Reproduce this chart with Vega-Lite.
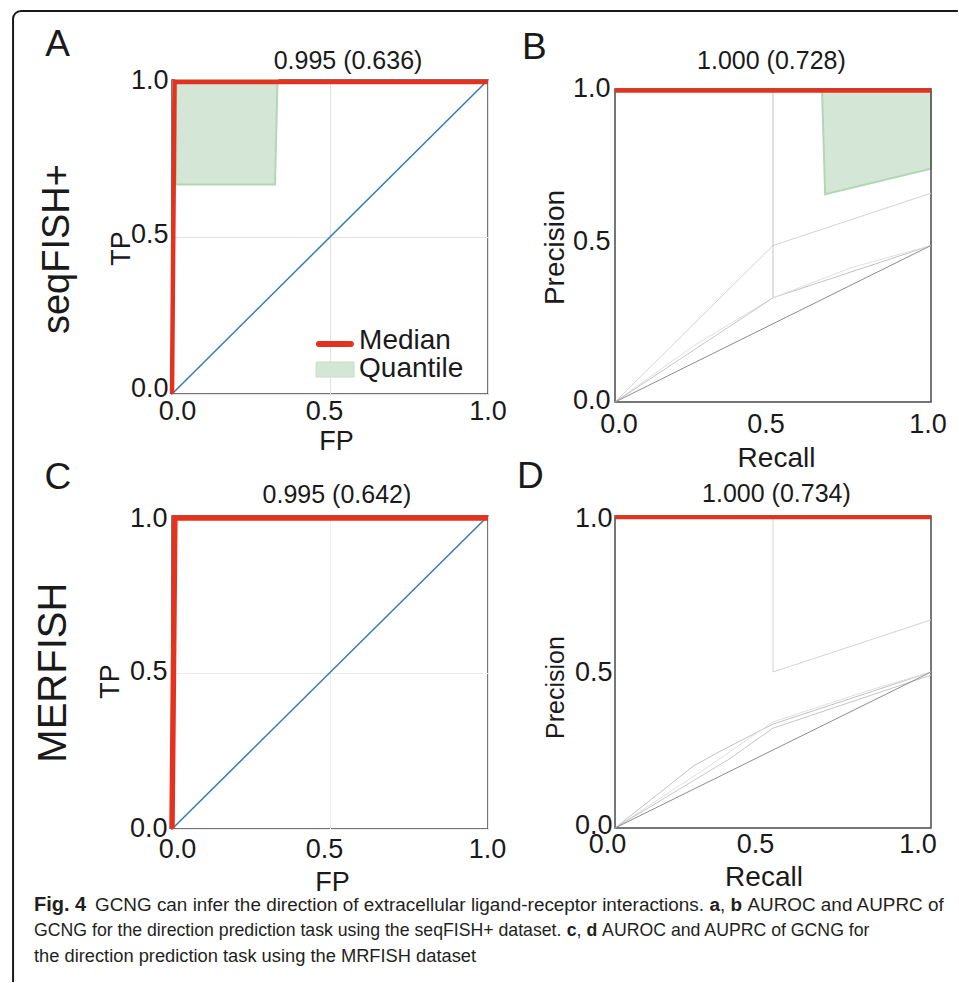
{
  "$schema": "https://vega.github.io/schema/vega-lite/v6.json",
  "background": "white",
  "padding": {"left": 11, "top": 9, "right": 0, "bottom": 0},
  "config": {
    "font": "Liberation Sans",
    "view": {"stroke": "#4a4a4a", "strokeWidth": 1.5},
    "axis": {
      "domain": false, "ticks": false, "tickSize": 0,
      "labelFontSize": 27, "labelColor": "#1a1a1a", "labelFont": "Liberation Sans",
      "titleFont": "Liberation Sans", "titleFontSize": 27, "titleFontWeight": "normal", "titleColor": "#1a1a1a",
      "labelFlush": false, "labelOverlap": false, "grid": false, "gridColor": "#e2e2e2", "gridWidth": 1,
      "titleAlign": "center", "titleBaseline": "alphabetic"
    },
    "axisY": {"titleAngle": 270, "labelBaseline": "middle"},
    "axisX": {"labelBaseline": "top", "labelAngle": 0},
    "text": {"color": "#1a1a1a"}
  },
  "datasets": {
    "diagonal": [{"x": 0, "y": 0}, {"x": 1, "y": 1}],
    "rocA_median": [{"x": 0, "y": 0}, {"x": 0.008, "y": 0.994}, {"x": 1, "y": 0.994}],
    "rocA_quantile": [{"x": 0.013, "y": 0.667, "y2": 1}, {"x": 0.326, "y": 0.667, "y2": 1}, {"x": 0.334, "y": 1, "y2": 1}],
    "rocC_median": [{"x": 0, "y": 0}, {"x": 0.009, "y": 0.994}, {"x": 1, "y": 0.994}],
    "prB_median": [{"x": 0, "y": 0.995}, {"x": 1, "y": 0.995}],
    "prB_quantile": [{"x": 0.655, "y": 1, "y2": 1}, {"x": 0.665, "y": 0.664, "y2": 1}, {"x": 1, "y": 0.745, "y2": 1}],
    "prB_curves": [
      {"run": "r1", "i": 0, "x": 0, "y": 0}, {"run": "r1", "i": 1, "x": 0.5, "y": 0.5}, {"run": "r1", "i": 2, "x": 1, "y": 0.667},
      {"run": "r2", "i": 0, "x": 0.5, "y": 1}, {"run": "r2", "i": 1, "x": 0.5, "y": 0.333}, {"run": "r2", "i": 2, "x": 1, "y": 0.5},
      {"run": "r3", "i": 0, "x": 0, "y": 0}, {"run": "r3", "i": 1, "x": 0.25, "y": 0.18}, {"run": "r3", "i": 2, "x": 0.5, "y": 0.333}, {"run": "r3", "i": 3, "x": 0.75, "y": 0.43}, {"run": "r3", "i": 4, "x": 1, "y": 0.5},
      {"run": "r4", "i": 0, "x": 0, "y": 0}, {"run": "r4", "i": 1, "x": 0.5, "y": 0.333},
      {"run": "chance", "i": 0, "x": 0, "y": 0}, {"run": "chance", "i": 1, "x": 1, "y": 0.5}
    ],
    "prD_median": [{"x": 0, "y": 0.996}, {"x": 1, "y": 0.996}],
    "prD_curves": [
      {"run": "r1", "i": 0, "x": 0.5, "y": 1}, {"run": "r1", "i": 1, "x": 0.5, "y": 0.5}, {"run": "r1", "i": 2, "x": 1, "y": 0.667},
      {"run": "r2", "i": 0, "x": 0, "y": 0}, {"run": "r2", "i": 1, "x": 0.25, "y": 0.2}, {"run": "r2", "i": 2, "x": 0.34, "y": 0.25}, {"run": "r2", "i": 3, "x": 0.5, "y": 0.333}, {"run": "r2", "i": 4, "x": 1, "y": 0.5},
      {"run": "r3", "i": 0, "x": 0, "y": 0}, {"run": "r3", "i": 1, "x": 0.3, "y": 0.2}, {"run": "r3", "i": 2, "x": 0.5, "y": 0.34}, {"run": "r3", "i": 3, "x": 0.8, "y": 0.44}, {"run": "r3", "i": 4, "x": 1, "y": 0.5},
      {"run": "r4", "i": 0, "x": 0, "y": 0}, {"run": "r4", "i": 1, "x": 0.36, "y": 0.22}, {"run": "r4", "i": 2, "x": 0.5, "y": 0.32}, {"run": "r4", "i": 3, "x": 1, "y": 0.49},
      {"run": "chance", "i": 0, "x": 0, "y": 0}, {"run": "chance", "i": 1, "x": 1, "y": 0.5}
    ],
    "labelsA": [{"title": "0.995 (0.636)", "letter": "A", "row": "seqFISH+"}],
    "labelsB": [{"title": "1.000 (0.728)", "letter": "B"}],
    "labelsC": [{"title": "0.995 (0.642)", "letter": "C", "row": "MERFISH"}],
    "labelsD": [{"title": "1.000 (0.734)", "letter": "D"}],
    "legendA": [{"median": "Median", "quantile": "Quantile"}],
    "caption": [
      {"line": 1, "part": "lead", "text": "Fig. 4"},
      {"line": 1, "part": "body1", "text": "GCNG can infer the direction of extracellular ligand-receptor interactions."},
      {"line": 1, "part": "a", "text": "a"},
      {"line": 1, "part": "comma1", "text": ","},
      {"line": 1, "part": "b", "text": "b"},
      {"line": 1, "part": "tail1", "text": "AUROC and AUPRC of"},
      {"line": 2, "part": "body2", "text": "GCNG for the direction prediction task using the seqFISH+ dataset."},
      {"line": 2, "part": "c", "text": "c"},
      {"line": 2, "part": "comma2", "text": ","},
      {"line": 2, "part": "d", "text": "d"},
      {"line": 2, "part": "tail2", "text": "AUROC and AUPRC of GCNG for"},
      {"line": 3, "part": "body3", "text": "the direction prediction task using the MRFISH dataset"}
    ]
  },
  "bounds": "flush",
  "columns": 2,
  "spacing": {"row": 114, "column": 127},
  "concat": [
    {
      "width": 316, "height": 314,
      "layer": [
        {"data": {"name": "rocA_quantile"}, "mark": {"type": "area", "color": "#d4e6d6", "stroke": "#b4d6b6", "strokeWidth": 2, "opacity": 1},
          "encoding": {
            "x": {"field": "x", "type": "quantitative", "scale": {"domain": [0, 1], "nice": false, "zero": false},
              "axis": {"title": "FP", "values": [0, 0.5, 1], "format": ".1f", "titleX": 164, "titleY": 55, "labelPadding": 4, "grid": true, "gridColor": "#e2e2e2",
                "labelOffset": {"condition": [{"test": "datum.value == 0", "value": 5}, {"test": "datum.value == 0.5", "value": -6}], "value": -0.5}}},
            "y": {"field": "y", "type": "quantitative", "scale": {"domain": [0, 1], "nice": false, "zero": false},
              "axis": {"title": "TP", "values": [0, 0.5, 1], "format": ".1f", "titleX": -43, "titleY": 168, "labelPadding": 4, "grid": true, "gridColor": "#e2e2e2",
                "labelOffset": {"condition": [{"test": "datum.value == 0", "value": -6}, {"test": "datum.value == 0.5", "value": -2.5}], "value": 0}}},
            "y2": {"field": "y2"}
          }},
        {"data": {"name": "diagonal"}, "mark": {"type": "line", "color": "#3579b8", "strokeWidth": 1.5},
          "encoding": {"x": {"field": "x", "type": "quantitative", "scale": {"domain": [0, 1], "nice": false, "zero": false}}, "y": {"field": "y", "type": "quantitative", "scale": {"domain": [0, 1], "nice": false, "zero": false}}}},
        {"data": {"name": "rocA_median"}, "mark": {"type": "line", "color": "#e4321e", "strokeWidth": 4.5},
          "encoding": {"x": {"field": "x", "type": "quantitative", "scale": {"domain": [0, 1], "nice": false, "zero": false}}, "y": {"field": "y", "type": "quantitative", "scale": {"domain": [0, 1], "nice": false, "zero": false}}}},
        {"data": {"name": "legendA"}, "mark": {"type": "rule", "color": "#e4321e", "strokeWidth": 6, "strokeCap": "round"}, "encoding": {"x": {"datum": 0.465}, "x2": {"datum": 0.566}, "y": {"datum": 0.159}}},
        {"data": {"name": "legendA"}, "mark": {"type": "rect", "color": "#d4e6d6", "stroke": "#c4dec6", "strokeWidth": 1}, "encoding": {"x": {"datum": 0.456}, "x2": {"datum": 0.576}, "y": {"datum": 0.102}, "y2": {"datum": 0.054}}},
        {"data": {"name": "legendA"}, "mark": {"type": "text", "fontSize": 28, "align": "left", "baseline": "alphabetic"}, "encoding": {"x": {"datum": 0.592}, "y": {"datum": 0.143}, "text": {"field": "median"}}},
        {"data": {"name": "legendA"}, "mark": {"type": "text", "fontSize": 28, "align": "left", "baseline": "alphabetic"}, "encoding": {"x": {"datum": 0.592}, "y": {"datum": 0.054}, "text": {"field": "quantile"}}},
        {"data": {"name": "labelsA"}, "mark": {"type": "text", "fontSize": 25, "align": "center", "baseline": "alphabetic"}, "encoding": {"x": {"datum": 0.557}, "y": {"datum": 1.035}, "text": {"field": "title"}}},
        {"data": {"name": "labelsA"}, "mark": {"type": "text", "fontSize": 37, "align": "center", "baseline": "alphabetic"}, "encoding": {"x": {"datum": -0.362}, "y": {"datum": 1.0764}, "text": {"field": "letter"}}},
        {"data": {"name": "labelsA"}, "mark": {"type": "text", "fontSize": 38, "angle": 270, "align": "center", "baseline": "alphabetic"}, "encoding": {"x": {"datum": -0.326}, "y": {"datum": 0.4618}, "text": {"field": "row"}}},
        {"data": {"name": "labelsA"}, "mark": {"type": "rule", "color": "#1a1a1a", "strokeWidth": 2}, "encoding": {"x": {"datum": -0.4778}, "x2": {"datum": 2.487}, "y": {"datum": 1.2197}}},
        {"data": {"name": "labelsA"}, "mark": {"type": "rule", "color": "#1a1a1a", "strokeWidth": 2}, "encoding": {"x": {"datum": -0.503}, "y": {"datum": 1.1943}, "y2": {"datum": -1.8726}}},
        {"data": {"name": "labelsA"}, "mark": {"type": "arc", "color": "#1a1a1a", "theta": -1.5708, "theta2": 0, "radius": 9, "radius2": 7}, "encoding": {"x": {"datum": -0.4778}, "y": {"datum": 1.1943}}}
      ]
    },
    {
      "width": 316, "height": 322,
      "view": {"stroke": null},
      "layer": [
        {"data": {"name": "prB_quantile"}, "mark": {"type": "area", "color": "#d4e6d6", "stroke": "#b4d6b6", "strokeWidth": 2, "opacity": 1},
          "encoding": {
            "x": {"field": "x", "type": "quantitative", "scale": {"domain": [0, 1], "nice": false, "zero": false},
              "axis": {"title": "Recall", "values": [0, 0.5, 1], "format": ".1f", "titleFontSize": 28, "titleX": 161, "titleY": 64, "labelPadding": 9,
                "labelOffset": {"condition": [{"test": "datum.value == 0", "value": 3.5}, {"test": "datum.value == 0.5", "value": -7.5}], "value": -3.5}}},
            "y": {"field": "y", "type": "quantitative", "scale": {"domain": [0, 1], "nice": false, "zero": false, "range": [322, 9]},
              "axis": {"title": "Precision", "values": [0, 0.5, 1], "format": ".1f", "titleFontSize": 28, "titleX": -52, "titleY": 167, "labelPadding": 5,
                "labelOffset": {"condition": [{"test": "datum.value == 0", "value": -1.5}, {"test": "datum.value == 0.5", "value": -4}], "value": -0.5}}},
            "y2": {"field": "y2"}
          }},
        {"data": {"name": "labelsB"}, "mark": {"type": "rect", "filled": false, "stroke": "#4a4a4a", "strokeWidth": 1.5}, "encoding": {"x": {"datum": 0}, "x2": {"datum": 1}, "y": {"datum": 0}, "y2": {"datum": 1}}},
        {"data": {"name": "prB_curves"}, "mark": {"type": "line", "strokeWidth": 1},
          "encoding": {
            "x": {"field": "x", "type": "quantitative", "scale": {"domain": [0, 1], "nice": false, "zero": false}},
            "y": {"field": "y", "type": "quantitative", "scale": {"domain": [0, 1], "nice": false, "zero": false, "range": [322, 9]}},
            "color": {"field": "run", "type": "nominal", "scale": {"domain": ["r1", "r2", "r3", "r4", "chance"], "range": ["#d4d4d4", "#c2c2c2", "#e0e0e0", "#c6c6c6", "#8c8c8c"]}, "legend": null},
            "order": {"field": "i"}}},
        {"data": {"name": "prB_median"}, "mark": {"type": "line", "color": "#e4321e", "strokeWidth": 4.5},
          "encoding": {"x": {"field": "x", "type": "quantitative", "scale": {"domain": [0, 1], "nice": false, "zero": false}}, "y": {"field": "y", "type": "quantitative", "scale": {"domain": [0, 1], "nice": false, "zero": false, "range": [322, 9]}}}},
        {"data": {"name": "labelsB"}, "mark": {"type": "text", "fontSize": 25, "align": "center", "baseline": "alphabetic"}, "encoding": {"x": {"datum": 0.495}, "y": {"datum": 1.0639}, "text": {"field": "title"}}},
        {"data": {"name": "labelsB"}, "mark": {"type": "text", "fontSize": 37, "align": "center", "baseline": "alphabetic"}, "encoding": {"x": {"datum": -0.255}, "y": {"datum": 1.0958}, "text": {"field": "letter"}}}
      ]
    },
    {
      "width": 316, "height": 313,
      "layer": [
        {"data": {"name": "diagonal"}, "mark": {"type": "line", "color": "#3579b8", "strokeWidth": 1.5},
          "encoding": {
            "x": {"field": "x", "type": "quantitative", "scale": {"domain": [0, 1], "nice": false, "zero": false},
              "axis": {"title": "FP", "values": [0, 0.5, 1], "format": ".1f", "titleX": 160, "titleY": 61, "labelPadding": 7, "grid": true, "gridColor": "#ececec",
                "labelOffset": {"condition": [{"test": "datum.value == 0", "value": 5}, {"test": "datum.value == 0.5", "value": -6}], "value": -1}}},
            "y": {"field": "y", "type": "quantitative", "scale": {"domain": [0, 1], "nice": false, "zero": false},
              "axis": {"title": "TP", "values": [0, 0.5, 1], "format": ".1f", "titleX": -54, "titleY": 165, "labelPadding": 5, "grid": true, "gridColor": "#ececec",
                "labelOffset": {"condition": [{"test": "datum.value == 0", "value": -0.5}, {"test": "datum.value == 0.5", "value": -1}], "value": 2.5}}}
          }},
        {"data": {"name": "rocC_median"}, "mark": {"type": "line", "color": "#e4321e", "strokeWidth": 5.5},
          "encoding": {"x": {"field": "x", "type": "quantitative", "scale": {"domain": [0, 1], "nice": false, "zero": false}}, "y": {"field": "y", "type": "quantitative", "scale": {"domain": [0, 1], "nice": false, "zero": false}}}},
        {"data": {"name": "labelsC"}, "mark": {"type": "text", "fontSize": 25, "align": "center", "baseline": "alphabetic"}, "encoding": {"x": {"datum": 0.522}, "y": {"datum": 1.0415}, "text": {"field": "title"}}},
        {"data": {"name": "labelsC"}, "mark": {"type": "text", "fontSize": 37, "align": "center", "baseline": "alphabetic"}, "encoding": {"x": {"datum": -0.361}, "y": {"datum": 1.0863}, "text": {"field": "letter"}}},
        {"data": {"name": "labelsC"}, "mark": {"type": "text", "fontSize": 40, "angle": 270, "align": "center", "baseline": "alphabetic"}, "encoding": {"x": {"datum": -0.336}, "y": {"datum": 0.4994}, "text": {"field": "row"}}}
      ]
    },
    {
      "width": 316, "height": 312,
      "layer": [
        {"data": {"name": "prD_curves"}, "mark": {"type": "line", "strokeWidth": 1},
          "encoding": {
            "x": {"field": "x", "type": "quantitative", "scale": {"domain": [0, 1], "nice": false, "zero": false},
              "axis": {"title": "Recall", "values": [0, 0.5, 1], "format": ".1f", "titleFontSize": 28, "titleX": 148.5, "titleY": 57, "labelPadding": 3,
                "labelOffset": {"condition": [{"test": "datum.value == 0", "value": -8}, {"test": "datum.value == 0.5", "value": -18}], "value": -13.5}}},
            "y": {"field": "y", "type": "quantitative", "scale": {"domain": [0, 1], "nice": false, "zero": false},
              "axis": {"title": "Precision", "values": [0, 0.5, 1], "format": ".1f", "titleFontSize": 25, "titleX": -52, "titleY": 171, "labelPadding": 3,
                "labelOffset": {"condition": [{"test": "datum.value == 0", "value": -2.5}, {"test": "datum.value == 0.5", "value": 0.5}], "value": 2.5}}},
            "color": {"field": "run", "type": "nominal", "scale": {"domain": ["r1", "r2", "r3", "r4", "chance"], "range": ["#e2e2e2", "#e6e6e6", "#ececec", "#e8e8e8", "#8c8c8c"]}, "legend": null},
            "order": {"field": "i"}}},
        {"data": {"name": "prD_median"}, "mark": {"type": "line", "color": "#e4321e", "strokeWidth": 4},
          "encoding": {"x": {"field": "x", "type": "quantitative", "scale": {"domain": [0, 1], "nice": false, "zero": false}}, "y": {"field": "y", "type": "quantitative", "scale": {"domain": [0, 1], "nice": false, "zero": false}}}},
        {"data": {"name": "labelsD"}, "mark": {"type": "text", "fontSize": 25, "align": "center", "baseline": "alphabetic"}, "encoding": {"x": {"datum": 0.511}, "y": {"datum": 1.0449}, "text": {"field": "title"}}},
        {"data": {"name": "labelsD"}, "mark": {"type": "text", "fontSize": 37, "align": "center", "baseline": "alphabetic"}, "encoding": {"x": {"datum": -0.268}, "y": {"datum": 1.0897}, "text": {"field": "letter"}}}
      ]
    },
    {
      "width": 316, "height": 75,
      "view": {"stroke": null},
      "data": {"name": "caption"},
      "encoding": {"y": {"field": "line", "type": "ordinal", "axis": null, "scale": {"range": [-32, 18.5], "padding": 0}}, "text": {"field": "text"}, "x": {"value": 0}},
      "layer": [
        {"transform": [{"filter": "datum.part == 'lead'"}], "mark": {"type": "text", "align": "left", "baseline": "alphabetic", "fontSize": 20, "fontWeight": "bold", "color": "#231f20", "dx": -138}},
        {"transform": [{"filter": "datum.part == 'body1'"}], "mark": {"type": "text", "align": "left", "baseline": "alphabetic", "fontSize": 18.9, "color": "#231f20", "dx": -77}},
        {"transform": [{"filter": "datum.part == 'a'"}], "mark": {"type": "text", "align": "left", "baseline": "alphabetic", "fontSize": 18.9, "fontWeight": "bold", "color": "#231f20", "dx": 537.5}},
        {"transform": [{"filter": "datum.part == 'comma1'"}], "mark": {"type": "text", "align": "left", "baseline": "alphabetic", "fontSize": 18.9, "color": "#231f20", "dx": 548}},
        {"transform": [{"filter": "datum.part == 'b'"}], "mark": {"type": "text", "align": "left", "baseline": "alphabetic", "fontSize": 18.9, "fontWeight": "bold", "color": "#231f20", "dx": 558.5}},
        {"transform": [{"filter": "datum.part == 'tail1'"}], "mark": {"type": "text", "align": "left", "baseline": "alphabetic", "fontSize": 18.9, "color": "#231f20", "dx": 575.4}},
        {"transform": [{"filter": "datum.part == 'body2'"}], "mark": {"type": "text", "align": "left", "baseline": "alphabetic", "fontSize": 17.7, "color": "#231f20", "dx": -138}},
        {"transform": [{"filter": "datum.part == 'c'"}], "mark": {"type": "text", "align": "left", "baseline": "alphabetic", "fontSize": 17.7, "fontWeight": "bold", "color": "#231f20", "dx": 394.7}},
        {"transform": [{"filter": "datum.part == 'comma2'"}], "mark": {"type": "text", "align": "left", "baseline": "alphabetic", "fontSize": 17.7, "color": "#231f20", "dx": 404.6}},
        {"transform": [{"filter": "datum.part == 'd'"}], "mark": {"type": "text", "align": "left", "baseline": "alphabetic", "fontSize": 17.7, "fontWeight": "bold", "color": "#231f20", "dx": 414.4}},
        {"transform": [{"filter": "datum.part == 'tail2'"}], "mark": {"type": "text", "align": "left", "baseline": "alphabetic", "fontSize": 17.7, "color": "#231f20", "dx": 430.1}},
        {"transform": [{"filter": "datum.part == 'body3'"}], "mark": {"type": "text", "align": "left", "baseline": "alphabetic", "fontSize": 18.3, "color": "#231f20", "dx": -138}}
      ]
    }
  ]
}
